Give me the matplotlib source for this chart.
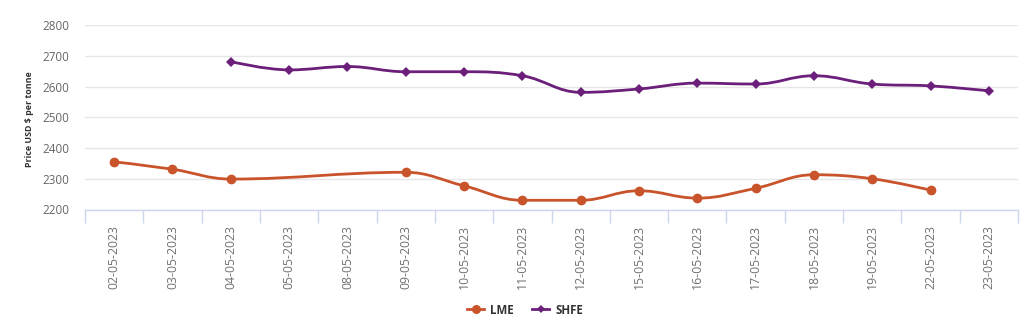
import numpy as np
import matplotlib
matplotlib.use("Agg")
import matplotlib.pyplot as plt
from matplotlib.path import Path
from matplotlib.patches import PathPatch
from matplotlib.lines import Line2D

dates = ["02-05-2023", "03-05-2023", "04-05-2023", "05-05-2023", "08-05-2023",
         "09-05-2023", "10-05-2023", "11-05-2023", "12-05-2023", "15-05-2023",
         "16-05-2023", "17-05-2023", "18-05-2023", "19-05-2023", "22-05-2023",
         "23-05-2023"]
lme = [2355, 2331, 2299, None, None, 2321, 2277, 2230, 2230, 2261,
       2237, 2269, 2313, 2300, 2263, None]
shfe = [None, None, 2681, 2654, 2665, 2648, 2648, 2635, 2581, 2592,
        2611, 2608, 2635, 2608, 2602, 2586]
yticks = [2200, 2300, 2400, 2500, 2600, 2700, 2800]

LME_C = "#c9532b"
SHFE_C = "#6b1f7b"
FONT = ["Open Sans", "DejaVu Sans"]
plt.rcParams["font.family"] = FONT


def spline_path(xs, ys, smoothing=1.5):
    n = len(xs)
    lc = [None] * n
    rc = [None] * n
    for i in range(n):
        x, y = xs[i], ys[i]
        if 0 < i < n - 1:
            lx, ly = xs[i - 1], ys[i - 1]
            nx, ny = xs[i + 1], ys[i + 1]
            d = smoothing + 1
            lcx = (smoothing * x + lx) / d
            lcy = (smoothing * y + ly) / d
            rcx = (smoothing * x + nx) / d
            rcy = (smoothing * y + ny) / d
            if rcx != lcx:
                corr = (rcy - lcy) * (rcx - x) / (rcx - lcx) + y - rcy
                lcy += corr
                rcy += corr
            if lcy > ly and lcy > y:
                lcy = max(ly, y); rcy = 2 * y - lcy
            elif lcy < ly and lcy < y:
                lcy = min(ly, y); rcy = 2 * y - lcy
            if rcy > ny and rcy > y:
                rcy = max(ny, y); lcy = 2 * y - rcy
            elif rcy < ny and rcy < y:
                rcy = min(ny, y); lcy = 2 * y - rcy
            lc[i] = (lcx, lcy)
            rc[i] = (rcx, rcy)
        else:
            lc[i] = (x, y)
            rc[i] = (x, y)
    verts = [(xs[0], ys[0])]
    codes = [Path.MOVETO]
    for i in range(1, n):
        verts += [rc[i - 1], lc[i], (xs[i], ys[i])]
        codes += [Path.CURVE4] * 3
    return Path(verts, codes)


fig = plt.figure(figsize=(10.30, 3.33), dpi=100)
ax = fig.add_axes([85 / 1030, 1 - 209.5 / 333, (1018 - 85) / 1030, (209.5 - 25) / 333])

x_all = np.arange(len(dates))
for vals, color, marker, ms in [(lme, LME_C, "o", 7), (shfe, SHFE_C, "D", 5)]:
    xs = [x for x, v in zip(x_all, vals) if v is not None]
    ys = [v for v in vals if v is not None]
    ax.add_patch(PathPatch(spline_path(xs, ys), facecolor="none", edgecolor=color,
                           lw=2, zorder=3, capstyle="round", joinstyle="round"))
    ax.plot(xs, ys, linestyle="none", marker=marker, color=color, ms=ms,
            markeredgewidth=0, zorder=4)

ax.set_xlim(-0.5, len(dates) - 0.5)
ax.set_ylim(2200, 2800)
ax.set_yticks(yticks)
ax.set_yticklabels([str(t) for t in yticks])
ax.grid(axis="y", color="#e6e6e6", lw=1)
ax.set_axisbelow(True)
for s in ["top", "right", "left"]:
    ax.spines[s].set_visible(False)
ax.spines["bottom"].set_color("#ccd6eb")
ax.spines["bottom"].set_linewidth(1)
ax.tick_params(axis="y", length=0, pad=11, labelsize=8.4, labelcolor="#666666")

ax.set_xticks(x_all)
ax.set_xticklabels(dates, rotation=90, fontsize=8.8, color="#707070")
ax.tick_params(axis="x", which="major", length=0, pad=11)
ax.set_xticks(np.arange(-0.5, len(dates) + 0.5, 1), minor=True)
ax.tick_params(axis="x", which="minor", length=9, color="#ccd6eb", width=1)

fig.text(30 / 1030, 1 - 119 / 333, "Price USD $ per tonne", rotation=90,
         ha="center", va="center", fontsize=6.4, fontweight="bold", color="#333333")

handles = [Line2D([], [], color=LME_C, lw=2, marker="o", ms=6.5, markeredgewidth=0),
           Line2D([], [], color=SHFE_C, lw=2, marker="D", ms=4.5, markeredgewidth=0)]
leg = fig.legend(handles, ["LME", "SHFE"], loc="center", bbox_to_anchor=(525 / 1030, 1 - 310 / 333),
                 ncol=2, frameon=False, handlelength=1.5, handletextpad=0.5, columnspacing=1.6,
                 prop={"size": 8.3, "weight": "bold", "family": FONT})
for t in leg.get_texts():
    t.set_color("#333333")

fig.savefig("out.png", dpi=100, facecolor="white")
